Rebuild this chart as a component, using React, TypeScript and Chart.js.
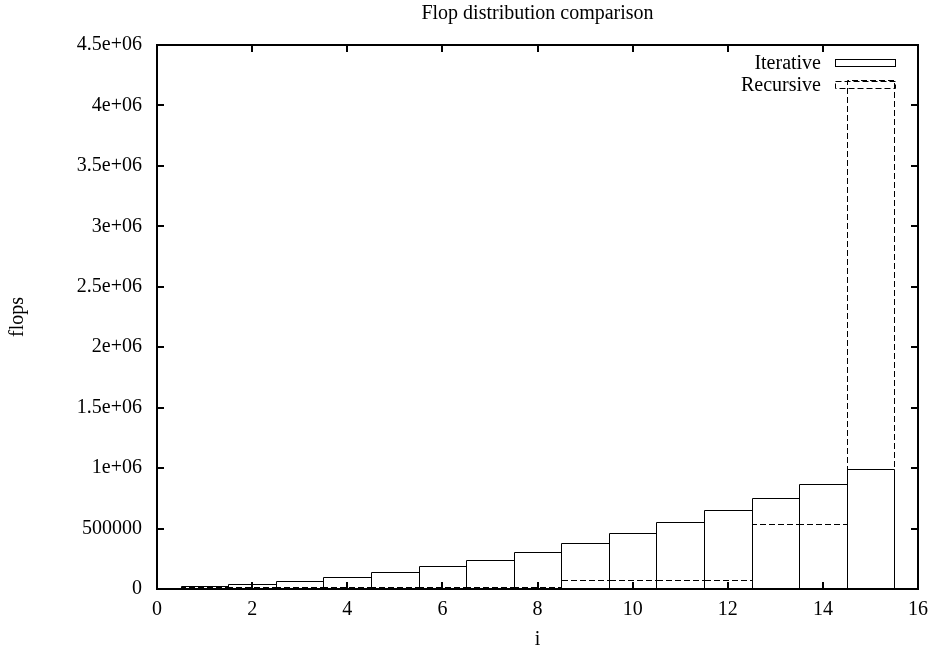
import React, { useEffect, useRef } from 'react';
import { Chart, registerables } from 'chart.js';

Chart.register(...registerables);

// ---- data ----
const iValues = [1, 2, 3, 4, 5, 6, 7, 8, 9, 10, 11, 12, 13, 14, 15];
const iterativeFlops = [12000, 29000, 53000, 83000, 127000, 174000, 230000, 294000, 367000, 452000, 540000, 640000, 744000, 860000, 982000];
const recursiveFlops = [8192, 8192, 8192, 8192, 8192, 8192, 8192, 8192, 65536, 65536, 65536, 65536, 524288, 524288, 4194304];
const seriesNames = ['Iterative', 'Recursive'];
const yTickLabels = ['0', '500000', '1e+06', '1.5e+06', '2e+06', '2.5e+06', '3e+06', '3.5e+06', '4e+06', '4.5e+06'];
const titleText = 'Flop distribution comparison';
const xTitleText = 'i';
const yTitleText = 'flops';

const FONT_FAMILY = '"Liberation Serif", "DejaVu Serif", serif';
const FONT_SIZE = 20;

const gnuplotPlugin = {
  id: 'gnuplotBoxes',
  afterDatasetsDraw(chart: any) {
    const ctx = chart.ctx as CanvasRenderingContext2D;
    const { left, right, top, bottom } = chart.chartArea;
    ctx.save();
    // boxes
    chart.data.datasets.forEach((_ds: any, di: number) => {
      const meta = chart.getDatasetMeta(di);
      ctx.strokeStyle = '#000';
      ctx.lineWidth = 1;
      ctx.setLineDash(di === 1 ? [6, 3] : []);
      meta.data.forEach((el: any) => {
        const p = el.getProps(['x', 'y', 'base', 'width'], true);
        const l = Math.round(p.x - p.width / 2) + 0.5;
        const r = Math.round(p.x + p.width / 2) + 0.5;
        const t = Math.floor(p.y) - 0.5;
        const b = Math.round(p.base);
        ctx.beginPath();
        ctx.moveTo(l, b);
        ctx.lineTo(l, t);
        ctx.lineTo(r, t);
        ctx.lineTo(r, b);
        ctx.stroke();
      });
    });
    ctx.setLineDash([]);

    // frame
    ctx.strokeStyle = '#000';
    ctx.lineWidth = 2;
    ctx.strokeRect(left, top, right - left, bottom - top);

    // inward ticks on all sides
    const xs = chart.scales.x;
    const ys = chart.scales.y;
    const tl = 7;
    ctx.beginPath();
    xs.ticks.forEach((t: any) => {
      const px = Math.round(xs.getPixelForValue(t.value));
      ctx.moveTo(px, bottom);
      ctx.lineTo(px, bottom - tl);
      ctx.moveTo(px, top);
      ctx.lineTo(px, top + tl);
    });
    ys.ticks.forEach((t: any) => {
      const py = Math.round(ys.getPixelForValue(t.value));
      ctx.moveTo(left, py);
      ctx.lineTo(left + tl, py);
      ctx.moveTo(right, py);
      ctx.lineTo(right - tl, py);
    });
    ctx.stroke();

    ctx.font = `${FONT_SIZE}px ${FONT_FAMILY}`;
    ctx.fillStyle = '#000';

    // title centred over the plot area
    ctx.textAlign = 'center';
    ctx.textBaseline = 'middle';
    ctx.fillText(titleText, (left + right) / 2, 14);

    // key (gnuplot style: text then sample)
    ctx.textAlign = 'right';
    const textRight = right - 97;
    const sampleL = right - 83;
    const sampleR = right - 23;
    const rows = [top + 18, top + 40];
    seriesNames.forEach((name, i) => {
      const cy = rows[i];
      ctx.fillText(name, textRight, cy + 1);
      ctx.lineWidth = 1;
      ctx.setLineDash(i === 1 ? [6, 3] : []);
      ctx.strokeRect(Math.round(sampleL) + 0.5, Math.round(cy - 4) + 0.5, sampleR - sampleL, 7);
    });
    ctx.setLineDash([]);
    ctx.restore();
  },
};

export default function App() {
  const canvasRef = useRef<HTMLCanvasElement | null>(null);

  useEffect(() => {
    if (!canvasRef.current) return;
    const font = { family: FONT_FAMILY, size: FONT_SIZE, weight: 'normal' as const };
    const chart = new Chart(canvasRef.current, {
      type: 'bar',
      data: {
        datasets: [
          {
            label: seriesNames[0],
            data: iValues.map((x, k) => ({ x, y: iterativeFlops[k] })),
            backgroundColor: 'rgba(0,0,0,0)',
            borderWidth: 0,
            barPercentage: 1,
            categoryPercentage: 1,
            grouped: false,
          },
          {
            label: seriesNames[1],
            data: iValues.map((x, k) => ({ x, y: recursiveFlops[k] })),
            backgroundColor: 'rgba(0,0,0,0)',
            borderWidth: 0,
            barPercentage: 1,
            categoryPercentage: 1,
            grouped: false,
          },
        ],
      },
      options: {
        animation: false,
        responsive: false,
        devicePixelRatio: 1,
        layout: { padding: { left: 0, right: 17, top: 45, bottom: 0 } },
        plugins: {
          legend: { display: false },
          tooltip: { enabled: false },
          title: { display: false },
        },
        scales: {
          x: {
            type: 'linear',
            min: 0,
            max: 16,
            offset: false,
            grid: { display: false, drawTicks: false },
            border: { display: false },
            ticks: { stepSize: 2, color: '#000', font, padding: 9, maxRotation: 0, autoSkip: false },
            title: { display: true, text: xTitleText, color: '#000', font, padding: { top: 0, bottom: 1 } },
            afterFit: (s: any) => {
              s.height = 64;
              s.paddingLeft = 0;
              s.paddingRight = 0;
            },
          },
          y: {
            type: 'linear',
            min: 0,
            max: 4500000,
            grid: { display: false, drawTicks: false },
            border: { display: false },
            ticks: {
              stepSize: 500000,
              color: '#000',
              font,
              padding: 15,
              callback: (_v: any, i: number) => yTickLabels[i],
            },
            title: { display: true, text: yTitleText, color: '#000', font, padding: { top: 6, bottom: 0 } },
            afterFit: (s: any) => {
              s.width = 157;
              s.paddingTop = 0;
              s.paddingBottom = 0;
            },
          },
        },
      },
      plugins: [gnuplotPlugin],
    } as any);
    return () => chart.destroy();
  }, []);

  return (
    <div style={{ position: 'absolute', left: 0, top: 0, width: 935, height: 653, background: '#fff' }}>
      <canvas ref={canvasRef} width={935} height={653} />
    </div>
  );
}
